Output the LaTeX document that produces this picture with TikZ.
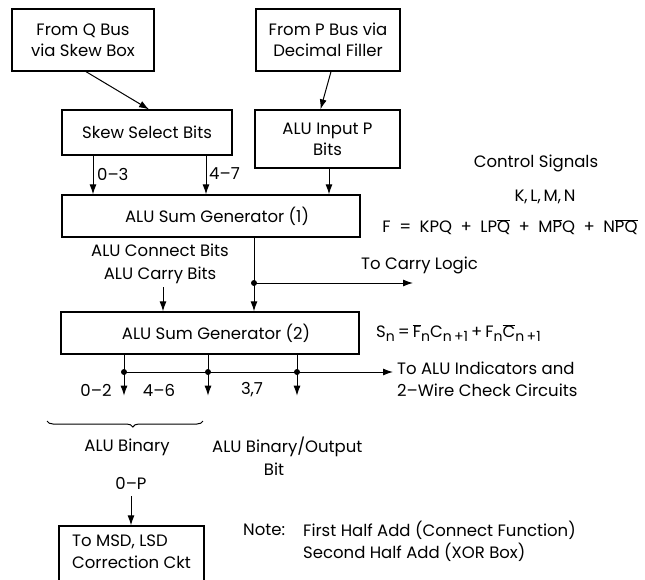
\documentclass[tikz,border=0pt]{standalone}
\usepackage{fontspec}
\setmainfont{Poppins}
\usetikzlibrary{arrows.meta,decorations.pathreplacing,calc}
\newcommand\ovl[1]{$\overline{\mbox{#1}}$}
\newcommand\sbs[1]{\raisebox{-4pt}{\fontsize{14}{14}\selectfont #1}}
\newcommand\opsp[1]{\hspace{8.5pt}#1\hspace{8.5pt}}
\newcommand\smsp[1]{\hspace{3pt}#1\hspace{3pt}}
\begin{document}
\begin{tikzpicture}[x=1pt,y=-1pt,
  box/.style={draw,line width=1.3pt,inner sep=0pt,align=center,font=\fontsize{16.5}{21}\selectfont},
  conn/.style={line width=1pt},
  arr/.style={conn,-{Latex[length=10pt,width=7pt]}},
  lbl/.style={inner sep=0pt,font=\fontsize{16.5}{22}\selectfont},
  dot/.style={circle,fill,inner sep=0pt,minimum size=6pt}
]
\useasboundingbox (0,0) rectangle (645,579);
% boxes
\node[box,minimum width=142pt,minimum height=62pt] (qbus) at (83,40) {From Q Bus\\via Skew Box};
\node[box,minimum width=144pt,minimum height=62pt] (pbus) at (328,40) {From P Bus via\\Decimal Filler};
\node[box,minimum width=170pt,minimum height=45pt] (skew) at (147,132.5) {Skew Select Bits};
\node[box,minimum width=145pt,minimum height=58pt] (inp) at (327.5,139) {ALU Input P\\Bits};
\node[box,minimum width=298pt,minimum height=42pt] (sg1) at (211,216) {\hspace*{12pt}ALU Sum Generator (1)};
\node[box,minimum width=298pt,minimum height=42pt] (sg2) at (210,333) {\hspace*{12pt}ALU Sum Generator (2)};
\node[box,minimum width=145pt,minimum height=74pt] (msd) at (131.5,563) {};
\node[lbl,align=left] (msdtxt) at (131.5,552) {To MSD, LSD\\Correction Ckt};
% top arrows
\draw[arr] ([xshift=3pt]qbus.south) -- ([xshift=2pt]skew.north);
\draw[arr] ([xshift=3pt]pbus.south) -- ([xshift=-7pt]inp.north);
\coordinate (a03) at ([xshift=-54pt]skew.south);
\coordinate (a47) at ([xshift=59pt]skew.south);
\coordinate (ap) at ([xshift=1.5pt]inp.south);
\draw[arr] (a03) -- (a03 |- sg1.north);
\draw[arr] (a47) -- (a47 |- sg1.north);
\draw[arr] (ap) -- (ap |- sg1.north);
\node[lbl,anchor=west] (l03) at (97,174) {0–3};
\node[lbl,anchor=west] (l47) at (209,174) {4–7};
% control signals
\node[lbl] (cs) at (536,163) {Control Signals};
\node[lbl] (klmn) at (545,197) {K,\,L,\,M,\,N};
\node[lbl] (fform) at (510,227) {F\opsp{=}KPQ\opsp{+}LP\ovl{Q}\opsp{+}M\ovl{P}Q\opsp{+}N\ovl{PQ}};
% between generators
\node[lbl] (conb) at (160,250) {ALU Connect Bits};
\node[lbl] (carb) at (160,275) {ALU Carry Bits};
\coordinate (cbs) at (163,287);
\draw[arr] (cbs) -- (cbs |- sg2.north);
\coordinate (cl) at (254,283);
\coordinate (clend) at (413,283);
\draw[arr] (sg1.south -| cl) -- (sg2.north -| cl);
\draw[arr] (cl) -- (clend);
\node[dot] (cldot) at (cl) {};
\node[lbl,anchor=west] (tcl) at (361,265) {To Carry Logic};
\node[lbl,anchor=west] (sn) at (376,333) {S\sbs{n}\smsp{=}\ovl{F}\sbs{n}C\sbs{n\,+1}\smsp{+}F\sbs{n}\ovl{C}\sbs{n\,+1}};
% outputs
\coordinate (o1) at (124,372);
\coordinate (o2) at (208,372);
\coordinate (o3) at (297,372);
\coordinate (oend) at (393,372);
\draw[arr] (sg2.south -| o1) -- ++(0,41);
\draw[arr] (sg2.south -| o2) -- ++(0,41);
\draw[arr] (sg2.south -| o3) -- ++(0,41);
\draw[arr] (o1) -- (oend);
\node[dot] (d1) at (o1) {};
\node[dot] (d2) at (o2) {};
\node[dot] (d3) at (o3) {};
\node[lbl,anchor=west,align=left] (ind) at (397,379) {To ALU Indicators and\\2–Wire Check Circuits};
\node[lbl] (l02) at (96,390) {0–2};
\node[lbl] (l46) at (159,390) {4–6};
\node[lbl] (l37) at (252,390) {3,7};
% brace
\coordinate (br1) at (47,421);
\coordinate (br2) at (203,421);
\draw[conn,decorate,decoration={brace,mirror,amplitude=6pt,aspect=0.55}] (br1) -- (br2);
\node[lbl] (bin) at (127,447) {ALU Binary};
\node[lbl,anchor=west] (binout) at (212,447) {ALU Binary/Output};
\node[lbl] (bit) at (274,469) {Bit};
\node[lbl] (l0p) at (131,483) {0–P};
\coordinate (a0p) at (131,496);
\draw[arr] (a0p) -- (a0p |- msd.north);
% note
\node[lbl,anchor=west] (note) at (243,530) {Note:};
\node[lbl,anchor=west,align=left] (notetxt) at (303,541.5) {First Half Add (Connect Function)\\Second Half Add (XOR Box)};
\end{tikzpicture}
\end{document}
